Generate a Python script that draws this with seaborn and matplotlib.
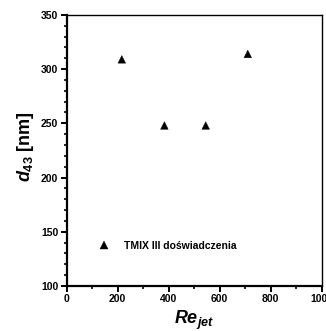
import pandas as pd
import matplotlib
matplotlib.use("Agg")
import matplotlib.pyplot as plt
import seaborn as sns
from matplotlib.ticker import MultipleLocator

re_jet = [216, 383, 545, 710]
d43 = [309, 248, 248, 314]
seria = "TMIX III doświadczenia"

df = pd.DataFrame({"Re": re_jet, "d43": d43, "seria": [seria] * len(re_jet)})

sns.set_style("ticks")
plt.rcParams['font.family'] = ['Liberation Sans', 'DejaVu Sans']
plt.rcParams['font.weight'] = 'bold'
plt.rcParams['text.color'] = 'black'
plt.rcParams['axes.labelcolor'] = 'black'
plt.rcParams['xtick.color'] = 'black'
plt.rcParams['ytick.color'] = 'black'
plt.rcParams['axes.edgecolor'] = 'black'
plt.rcParams['mathtext.fontset'] = 'custom'
plt.rcParams['mathtext.rm'] = 'Liberation Sans:bold'
plt.rcParams['mathtext.it'] = 'Liberation Sans:bold:italic'
plt.rcParams['mathtext.bf'] = 'Liberation Sans:bold'

fig = plt.figure(figsize=(3.26, 3.31), dpi=100)
ax = fig.add_axes([0.2046, 0.136, 0.7824, 0.819])

sns.scatterplot(data=df, x="Re", y="d43", hue="seria", palette=["black"],
                marker="^", s=30, edgecolor="black", linewidth=0.3, ax=ax)

ax.set_xlim(0, 1000)
ax.set_ylim(100, 350)
ax.xaxis.set_major_locator(MultipleLocator(200))
ax.xaxis.set_minor_locator(MultipleLocator(100))
ax.yaxis.set_major_locator(MultipleLocator(50))
ax.yaxis.set_minor_locator(MultipleLocator(10))

for s in ["left", "bottom"]:
    ax.spines[s].set_linewidth(1.6)
for s in ["top", "right"]:
    ax.spines[s].set_linewidth(1.0)
    ax.spines[s].set_visible(True)

ax.tick_params(which="major", direction="out", length=4, width=1.4,
               labelsize=7.5, pad=2, color="black", labelcolor="black")
ax.tick_params(which="minor", direction="out", length=2.5, width=1.2, color="black")
for lab in ax.get_xticklabels() + ax.get_yticklabels():
    lab.set_fontweight("bold")

ax.set_xlabel(r"$Re_{jet}$", fontsize=13)
ax.xaxis.set_label_coords(0.5, -0.083)
ax.set_ylabel(r"$d_{43}$ [nm]", fontsize=13, fontweight="bold")
ax.yaxis.set_label_coords(-0.122, 0.515)

leg = ax.legend(loc="lower left", bbox_to_anchor=(0.07, 0.095), frameon=False,
                fontsize=7.5, handletextpad=0.9, markerscale=1.0)
for t in leg.get_texts():
    t.set_fontweight("bold")

fig.savefig("out.png", dpi=100)
